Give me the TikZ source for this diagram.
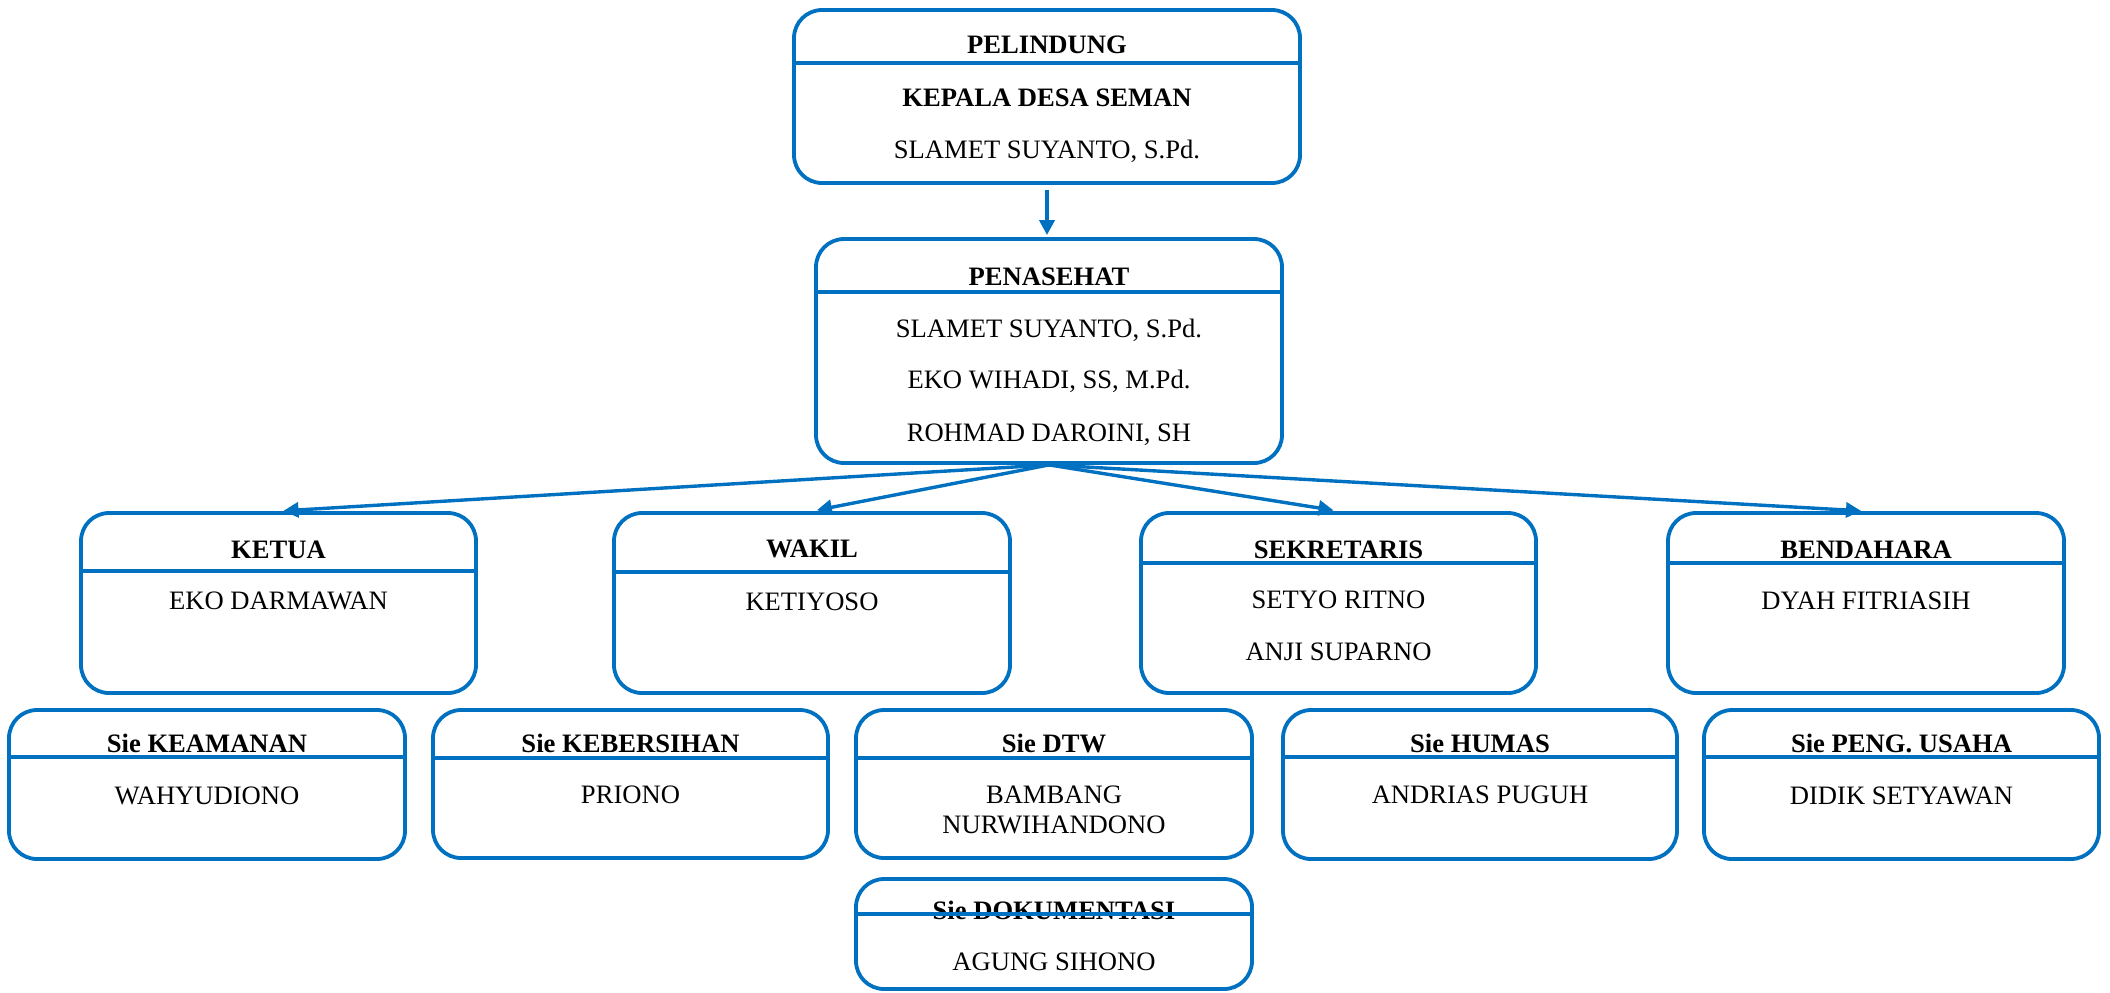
\documentclass[tikz,border=0pt]{standalone}
\usepackage{fontspec}
\setmainfont{Liberation Serif}
\usetikzlibrary{arrows.meta,fit}
\definecolor{orgblue}{RGB}{0,112,192}

\begin{document}
\begin{tikzpicture}[x=0.5pt,y=-0.5pt,
  box/.style={draw=orgblue,line width=1.9pt,rounded corners=14pt,inner sep=0pt},
  sep/.style={orgblue,line width=1.9pt},
  head/.style={anchor=base,font=\fontsize{13.3}{16}\selectfont\bfseries},
  person/.style={anchor=base,font=\fontsize{13.3}{16}\selectfont},
  arr/.style={orgblue,line width=1.7pt,-{Triangle[length=7.5pt,width=7.5pt]}}]
  \useasboundingbox (0,0) rectangle (2110,992);

  % top
  \node[box,fit={(794,10) (1300,183)}] (pelindung) {};
  \draw[sep] (794,63) -- (1300,63);
  \node[head] (pel-h) at (1047,53) {PELINDUNG};
  \node[head] (pel-1) at (1047,106) {KEPALA DESA SEMAN};
  \node[person] (pel-2) at (1047,158) {SLAMET SUYANTO, S.Pd.};

  \node[box,fit={(816,239) (1282,463)}] (penasehat) {};
  \draw[sep] (816,292) -- (1282,292);
  \node[head] (pen-h) at (1049,285) {PENASEHAT};
  \node[person] (pen-1) at (1049,337) {SLAMET SUYANTO, S.Pd.};
  \node[person] (pen-2) at (1049,388) {EKO WIHADI, SS, M.Pd.};
  \node[person] (pen-3) at (1049,441) {ROHMAD DAROINI, SH};

  % pengurus
  \node[box,fit={(81,513) (476,693)}] (ketua) {};
  \draw[sep] (81,571) -- (476,571);
  \node[head] (ketua-h) at (278.5,558) {KETUA};
  \node[person] (ketua-1) at (278.5,609) {EKO DARMAWAN};

  \node[box,fit={(614,513) (1010,693)}] (wakil) {};
  \draw[sep] (614,572) -- (1010,572);
  \node[head] (wakil-h) at (812,557) {WAKIL};
  \node[person] (wakil-1) at (812,610) {KETIYOSO};

  \node[box,fit={(1141,513) (1536,693)}] (sekretaris) {};
  \draw[sep] (1141,563) -- (1536,563);
  \node[head] (sek-h) at (1338.5,558) {SEKRETARIS};
  \node[person] (sek-1) at (1338.5,608) {SETYO RITNO};
  \node[person] (sek-2) at (1338.5,660) {ANJI SUPARNO};

  \node[box,fit={(1668,513) (2064,693)}] (bendahara) {};
  \draw[sep] (1668,563) -- (2064,563);
  \node[head] (ben-h) at (1866,558) {BENDAHARA};
  \node[person] (ben-1) at (1866,609) {DYAH FITRIASIH};

  % seksi
  \node[box,fit={(9,710) (405,859)}] (keamanan) {};
  \draw[sep] (9,757) -- (405,757);
  \node[head] (kea-h) at (207,752) {Sie KEAMANAN};
  \node[person] (kea-1) at (207,804) {WAHYUDIONO};

  \node[box,fit={(433,710) (828,858)}] (kebersihan) {};
  \draw[sep] (433,758) -- (828,758);
  \node[head] (keb-h) at (630.5,752) {Sie KEBERSIHAN};
  \node[person] (keb-1) at (630.5,803) {PRIONO};

  \node[box,fit={(856,710) (1252,858)}] (dtw) {};
  \draw[sep] (856,758) -- (1252,758);
  \node[head] (dtw-h) at (1054,752) {Sie DTW};
  \node[person] (dtw-1) at (1054,803) {BAMBANG};
  \node[person] (dtw-2) at (1054,833) {NURWIHANDONO};

  \node[box,fit={(1283,710) (1677,859)}] (humas) {};
  \draw[sep] (1283,757) -- (1677,757);
  \node[head] (hum-h) at (1480,752) {Sie HUMAS};
  \node[person] (hum-1) at (1480,803) {ANDRIAS PUGUH};

  \node[box,fit={(1704,710) (2099,859)}] (usaha) {};
  \draw[sep] (1704,757) -- (2099,757);
  \node[head] (usa-h) at (1901.5,752) {Sie PENG. USAHA};
  \node[person] (usa-1) at (1901.5,804) {DIDIK SETYAWAN};

  \node[box,fit={(856,879) (1252,989)}] (dokumentasi) {};
  \node[head] (dok-h) at (1054,919) {Sie DOKUMENTASI};
  \node[person] (dok-1) at (1054,970) {AGUNG SIHONO};
  \draw[sep] (856,914) -- (1252,914);

  % arrows
  \draw[arr,line width=1.9pt,shorten <=2.5pt,shorten >=1pt] (pelindung.south) -- (pelindung.south |- penasehat.north);
  \draw[arr,shorten >=2.5pt] (penasehat.south) -- (ketua.north);
  \draw[arr,shorten >=2.5pt] (penasehat.south) -- (wakil.north);
  \draw[arr,shorten >=2.5pt] (penasehat.south) -- (sekretaris.north);
  \draw[arr,shorten >=2.5pt] (penasehat.south) -- (bendahara.north);
\end{tikzpicture}
\end{document}
